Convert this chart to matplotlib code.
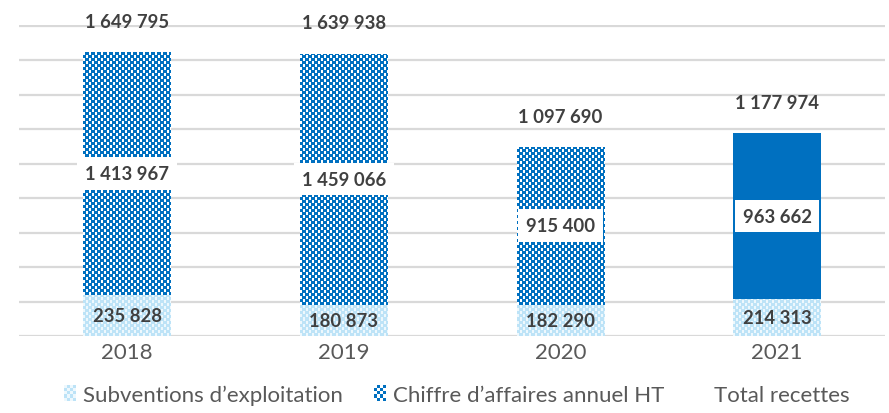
import matplotlib
matplotlib.use("Agg")
import matplotlib.pyplot as plt
import numpy as np
from matplotlib.patches import Patch, Rectangle
from matplotlib.colors import to_rgb
from matplotlib.legend_handler import HandlerBase

plt.rcParams['font.family'] = ['Lato', 'DejaVu Sans']

years = ["2018", "2019", "2020", "2021"]
subventions = [235828, 180873, 182290, 214313]
chiffre = [1413967, 1459066, 915400, 963662]
totals = [1649795, 1639938, 1097690, 1177974]

labels_series = ["Subventions d\u2019exploitation", "Chiffre d\u2019affaires annuel HT", "Total recettes"]

def fmt(v):
    return f"{v:,}".replace(",", " ")

dark = "#0070C0"
light = "#BDE3F7"
light2 = "#EEF8FD"
txt = "#404040"

fig = plt.figure(figsize=(8.89, 4.14), dpi=100)
ax = fig.add_axes([0.021, 0.186, 0.975, 0.751])

x = list(range(len(years)))
w = 0.405

b1 = ax.bar(x, subventions, width=w, color=light, linewidth=0, zorder=3)
b2 = ax.bar(x, chiffre, width=w, bottom=subventions, color=dark, linewidth=0, zorder=3)

ax.set_xlim(-0.5, 3.5)
ax.set_ylim(0, 1805000)


def checker(patch, c1, c2, cell=3):
    bb = patch.get_window_extent(renderer=fig.canvas.get_renderer())
    nx = max(1, int(round(bb.width)))
    ny = max(1, int(round(bb.height)))
    ii, jj = np.indices((ny, nx))
    second = (((ii // cell) + (jj // cell)) % 2 == 0) & (jj % cell != cell - 1)
    img = np.where(second[..., None], np.array(to_rgb(c2)), np.array(to_rgb(c1)))
    x0, y0 = patch.get_x(), patch.get_y()
    im = ax.imshow(img, extent=(x0, x0 + patch.get_width(), y0, y0 + patch.get_height()),
                   origin="lower", interpolation="nearest", aspect="auto", zorder=3.5)
    im.set_clip_path(patch)


fig.canvas.draw()
for p in b1:
    checker(p, light, light2)
for k, p in enumerate(b2):
    if k < 3:
        checker(p, dark, "white")

ax.set_xlim(-0.5, 3.5)
ax.set_ylim(0, 1805000)
ax.set_yticks(range(0, 1800001, 200000))
ax.yaxis.grid(True, color="#D9D9D9", linewidth=1.6, zorder=0)
ax.set_axisbelow(True)
ax.tick_params(axis="y", left=False, labelleft=False)
ax.tick_params(axis="x", length=0, pad=4, labelsize=16, labelcolor="#595959")
ax.set_xticks(x)
ax.set_xticklabels(years)
for s in ax.spines.values():
    s.set_visible(False)

bbox_white = dict(boxstyle="square,pad=0.42", facecolor="white", edgecolor="none")
for i in x:
    ax.text(i, subventions[i] / 2, fmt(subventions[i]), ha="center", va="center",
            fontsize=13.3, fontweight="bold", color=txt, zorder=5)
    ax.text(i, subventions[i] + chiffre[i] / 2, fmt(chiffre[i]), ha="center", va="center",
            fontsize=13.3, fontweight="bold", color=txt, zorder=5, bbox=bbox_white)
    ax.annotate(fmt(totals[i]), xy=(i, totals[i]), xytext=(0, 16), textcoords="offset points",
                ha="center", va="bottom", fontsize=13.3, fontweight="bold", color=txt,
                annotation_clip=False, zorder=5)


class CheckerHandler(HandlerBase):
    def __init__(self, c1, c2, n=(4, 5)):
        super().__init__()
        self.c1, self.c2, self.n = c1, c2, n

    def create_artists(self, legend, orig_handle, xdescent, ydescent, width, height,
                       fontsize, trans):
        nx, ny = self.n
        cw, ch = width / nx, height / ny
        arts = []
        for a in range(nx):
            for b in range(ny):
                col = self.c1 if (a + b) % 2 else self.c2
                arts.append(Rectangle((-xdescent + a * cw, -ydescent + b * ch), cw, ch,
                                      facecolor=col, edgecolor="none", transform=trans))
        return arts


h_sub = Patch(facecolor=light)
h_ca = Patch(facecolor=dark)
h_tot = Patch(facecolor="none", edgecolor="none")
fig.legend([h_sub, h_ca, h_tot], labels_series, loc="center", bbox_to_anchor=(0.514, 0.045), ncol=3,
           frameon=False, fontsize=16, labelcolor="#595959", handlelength=0.55, handleheight=0.75,
           handletextpad=0.3, columnspacing=1.4,
           handler_map={h_sub: CheckerHandler(light, light2), h_ca: CheckerHandler(dark, "white")})

fig.savefig("out.png", dpi=100)
